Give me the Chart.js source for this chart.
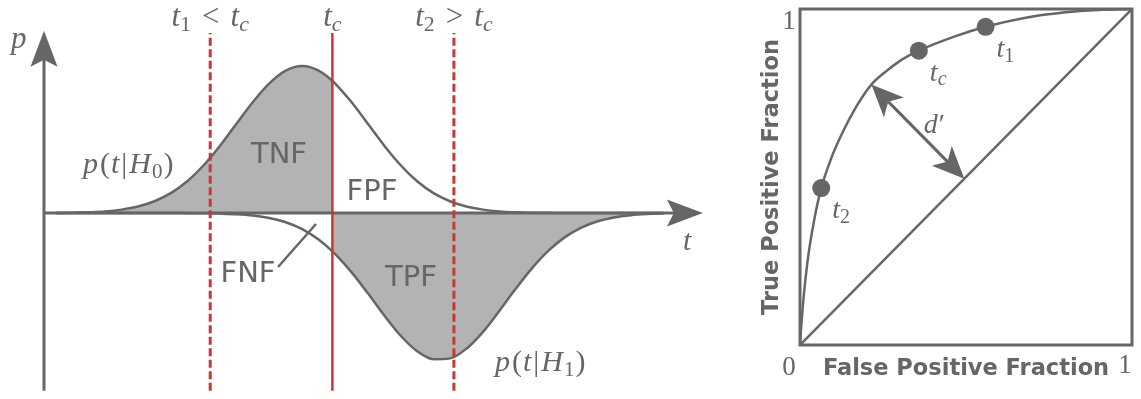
<!DOCTYPE html>
<html>
<head>
<meta charset="utf-8">
<script src="https://cdn.jsdelivr.net/npm/chart.js@4.4.1/dist/chart.umd.min.js"></script>
<style>
  html, body { margin:0; padding:0; background:#fff; width:1141px; height:399px; overflow:hidden; }
  canvas { position:absolute; top:0; }
  #dist { left:0; }
  #roc  { left:750px; }
</style>
</head>
<body>
<canvas id="dist" width="740" height="399"></canvas>
<canvas id="roc" width="391" height="399"></canvas>
<script>
// ------------------------------------------------------------
// decision variable t (sigma units), class densities scaled to peak 1
// ------------------------------------------------------------
const tVals = [-3.75,-3.5,-3.25,-3,-2.75,-2.5,-2.25,-2,-1.75,-1.5,-1.25,-1,-0.75,-0.5,-0.25,0,0.25,0.46,
               0.5,0.75,1,1.25,1.5,1.75,2,2.25,2.5,2.75,3,3.25,3.5,3.75,4,4.25,4.5,4.75,5,5.25,5.5];
const pH0 = [0,0.001,0.005,0.011,0.023,0.044,0.080,0.135,0.216,0.325,0.458,0.607,0.755,0.882,0.969,1,0.969,0.900,
             0.882,0.755,0.607,0.458,0.325,0.216,0.135,0.080,0.044,0.023,0.011,0.005,0.002,0.001,0,0,0,0,0,0,0];
// H1 density is drawn mirrored below the t axis
const pH1 = [0,0,0,0,0,0,0,0,-0.001,-0.002,-0.004,-0.008,-0.017,-0.034,-0.063,-0.110,-0.181,-0.261,
             -0.278,-0.402,-0.546,-0.697,-0.835,-0.940,-0.995,-0.989,-0.923,-0.810,-0.667,-0.516,-0.375,-0.256,
             -0.164,-0.099,-0.056,-0.030,-0.015,-0.007,-0.003];
const thrT1 = -1.40, thrTc = 0.46, thrT2 = 2.31;
const markSpan = [-1.21, 1.224];     // vertical extent of the threshold lines
const tAxis = [-3.93, 6.10];         // t axis: origin, arrow tip
const pAxis = [-1.21, 1.24];         // p axis: bottom, arrow tip

// ------------------------------------------------------------
// ROC curve
// ------------------------------------------------------------
const fpf = [0,0.003,0.008,0.015,0.027,0.044,0.064,0.093,0.127,0.170,0.215,0.260,0.300,0.358,0.471,0.559,0.668,0.800,0.900,1];
const tpf = [0,0.045,0.110,0.183,0.280,0.379,0.467,0.553,0.630,0.710,0.775,0.815,0.845,0.876,0.920,0.947,0.972,0.990,0.997,1];
const opFpf = [0.064, 0.358, 0.559];
const opTpf = [0.467, 0.876, 0.947];
const opNames = ['2', 'c', '1'];     // subscripts of t at each operating point
const dPrimeFrom = [0.215, 0.775], dPrimeTo = [0.495, 0.495];

const GREY = '#666', FILL = '#b3b3b3', RED = '#c83737';
const SERIF = '"Liberation Serif", serif', SANS = '"DejaVu Sans", sans-serif';

Chart.defaults.animation = false;

function pts(xs, ys) { return xs.map((x,i)=>({x, y:ys[i]})); }

// LaTeX-ish label: parts are [text, style, gapAfter]; style i / r / s (subscript) / si (italic subscript)
function mathText(ctx, parts, x, y, size, align) {
  const font = p => ((p[1]==='i'||p[1]==='si') ? 'italic ' : '') + Math.round(p[1][0]==='s' ? size*0.7 : size) + 'px ' + SERIF;
  let w = 0;
  parts.forEach(p => { ctx.font = font(p); w += ctx.measureText(p[0]).width + (p[2]||0); });
  let cx = align==='center' ? x - w/2 : x;
  ctx.textAlign = 'left'; ctx.textBaseline = 'alphabetic'; ctx.fillStyle = GREY;
  parts.forEach(p => {
    ctx.font = font(p);
    ctx.fillText(p[0], cx, p[1][0]==='s' ? y + size*0.17 : y);
    cx += ctx.measureText(p[0]).width + (p[2]||0);
  });
}

// stealth style arrow head, ang = direction it points to
function arrowHead(ctx, x, y, ang, len, half, notch) {
  const c = Math.cos(ang), s = Math.sin(ang);
  const at = (a, b) => [x - a*c - b*s, y - a*s + b*c];
  ctx.beginPath();
  ctx.moveTo(x, y);
  ctx.lineTo(...at(len, half));
  ctx.lineTo(...at(len - notch, 0));
  ctx.lineTo(...at(len, -half));
  ctx.closePath();
  ctx.fill();
}

function sansLabel(ctx, text, x, y, size) {
  ctx.font = size + 'px ' + SANS;
  ctx.fillStyle = GREY; ctx.textAlign = 'center'; ctx.textBaseline = 'alphabetic';
  ctx.fillText(text, x, y);
}

// ------------------------------------------------------------
// left: the two densities with thresholds
// ------------------------------------------------------------
const distDecor = {
  id: 'distDecor',
  afterDatasetsDraw(chart) {
    const {ctx, scales:{x, y}} = chart;
    ctx.save();
    ctx.fillStyle = GREY;
    arrowHead(ctx, x.getPixelForValue(tAxis[0]), y.getPixelForValue(pAxis[1]), -Math.PI/2, 36, 13.5, 7);
    arrowHead(ctx, x.getPixelForValue(tAxis[1]), y.getPixelForValue(0), 0, 36, 13.5, 7);

    // FNF pointer
    ctx.strokeStyle = GREY; ctx.lineWidth = 2.5;
    ctx.beginPath(); ctx.moveTo(278, 267); ctx.lineTo(316, 224); ctx.stroke();

    sansLabel(ctx, 'TNF', 279, 163, 29);
    sansLabel(ctx, 'FPF', 372, 200, 29);
    sansLabel(ctx, 'FNF', 248, 282, 29);
    sansLabel(ctx, 'TPF', 411, 286, 29);

    mathText(ctx, [['t','i'],['1','s',11],['<','r',11],['t','i'],['c','si']], x.getPixelForValue(thrT1), 26, 31, 'center');
    mathText(ctx, [['t','i'],['c','si']], x.getPixelForValue(thrTc), 26, 31, 'center');
    mathText(ctx, [['t','i'],['2','s',11],['>','r',11],['t','i'],['c','si']], x.getPixelForValue(thrT2), 26, 31, 'center');
    mathText(ctx, [['p','i']], 11, 48, 31, 'left');
    mathText(ctx, [['t','i']], 683, 250, 30, 'left');
    mathText(ctx, [['p','i',2],['(','r',1],['t','i',2],['|','r',2],['H','i',1],['0','s',1],[')','r']], 83, 173, 30, 'left');
    mathText(ctx, [['p','i',2],['(','r',1],['t','i',2],['|','r',2],['H','i',1],['1','s',1],[')','r']], 495, 371, 30, 'left');
    ctx.restore();
  }
};

const curve = (data, extra) => Object.assign({ data, borderColor:GREY, borderWidth:2.5, pointRadius:0,
  fill:false, cubicInterpolationMode:'monotone' }, extra);
const vline = (t, dash, width) => ({ data:[{x:t,y:markSpan[0]},{x:t,y:markSpan[1]}], borderColor:RED,
  borderWidth:width, borderDash:dash, pointRadius:0, fill:false, tension:0, order:1 });

const h0 = pts(tVals, pH0), h1 = pts(tVals, pH1);

new Chart(document.getElementById('dist'), {
  type:'line',
  data:{ datasets:[
    // shaded fractions: TNF left of t_c, TPF right of t_c
    curve(h0.filter(p=>p.x<=thrTc), { borderWidth:0, fill:'origin', backgroundColor:FILL, order:10 }),
    curve(h1.filter(p=>p.x>=thrTc), { borderWidth:0, fill:'origin', backgroundColor:FILL, order:10 }),
    // axes
    { data:[{x:tAxis[0],y:0},{x:5.7,y:0}], borderColor:GREY, borderWidth:3, pointRadius:0, tension:0, order:8 },
    { data:[{x:tAxis[0],y:pAxis[0]},{x:tAxis[0],y:1.1}], borderColor:GREY, borderWidth:3, pointRadius:0, tension:0, order:8 },
    curve(h0, { order:5 }),
    curve(h1, { order:5 }),
    vline(thrT1, [8,3.5], 3),
    vline(thrTc, [], 2.5),
    vline(thrT2, [8,3.5], 3),
  ]},
  options:{
    responsive:false, events:[],
    layout:{ padding:0 },
    plugins:{ legend:{display:false}, tooltip:{enabled:false} },
    scales:{
      x:{ type:'linear', min:-4.6, max:6.665, display:false },
      y:{ type:'linear', min:-1.2653, max:1.449, display:false },
    },
  },
  plugins:[distDecor],
});

// ------------------------------------------------------------
// right: ROC
// ------------------------------------------------------------
const rocDecor = {
  id: 'rocDecor',
  afterDatasetsDraw(chart) {
    const {ctx, chartArea:ca, scales:{x, y}} = chart;
    ctx.save();
    ctx.strokeStyle = GREY; ctx.fillStyle = GREY; ctx.lineWidth = 3;
    ctx.strokeRect(x.getPixelForValue(0), y.getPixelForValue(1), x.getPixelForValue(1)-x.getPixelForValue(0), y.getPixelForValue(0)-y.getPixelForValue(1));

    // d' double arrow, perpendicular to the chance line
    const ax = x.getPixelForValue(dPrimeFrom[0]), ay = y.getPixelForValue(dPrimeFrom[1]);
    const bx = x.getPixelForValue(dPrimeTo[0]),   by = y.getPixelForValue(dPrimeTo[1]);
    const ang = Math.atan2(by-ay, bx-ax);
    const cut = 24;
    ctx.lineWidth = 3;
    ctx.beginPath();
    ctx.moveTo(ax + cut*Math.cos(ang), ay + cut*Math.sin(ang));
    ctx.lineTo(bx - cut*Math.cos(ang), by - cut*Math.sin(ang));
    ctx.stroke();
    arrowHead(ctx, ax, ay, ang + Math.PI, 32, 14, 8);
    arrowHead(ctx, bx, by, ang, 32, 14, 8);
    mathText(ctx, [['d','i',1],['\u2032','r']], (ax+bx)/2 + 6, (ay+by)/2 + 1, 28, 'left');

    opFpf.forEach((f,i) => {
      mathText(ctx, [['t','i'],[opNames[i], opNames[i]==='c' ? 'si' : 's']],
        x.getPixelForValue(f) + 11, y.getPixelForValue(opTpf[i]) + 30, 28, 'left');
    });

    ctx.font = '27px ' + SERIF; ctx.textAlign = 'center'; ctx.textBaseline = 'alphabetic';
    ctx.fillText('0', ca.left - 11, ca.bottom + 30);
    ctx.fillText('1', ca.left - 11, ca.top + 20);
    ctx.fillText('1', ca.right - 7, ca.bottom + 28);

    ctx.font = 'bold 22.5px ' + SANS;
    ctx.fillText('False Positive Fraction', (ca.left+ca.right)/2, ca.bottom + 30);
    ctx.translate(ca.left - 22, (ca.top+ca.bottom)/2);
    ctx.rotate(-Math.PI/2);
    ctx.fillText('True Positive Fraction', 0, 0);
    ctx.restore();
  }
};

new Chart(document.getElementById('roc'), {
  type:'line',
  data:{ datasets:[
    { data:pts(opFpf, opTpf), showLine:false, pointRadius:9, pointBackgroundColor:GREY, pointBorderWidth:0, order:1 },
    { data:pts(fpf, tpf), borderColor:GREY, borderWidth:2.5, pointRadius:0, cubicInterpolationMode:'monotone', order:2 },
    { data:[{x:0,y:0},{x:1,y:1}], borderColor:GREY, borderWidth:2.5, pointRadius:0, tension:0, order:3 },
  ]},
  options:{
    responsive:false, events:[],
    layout:{ padding:{ left:50, top:6, right:1, bottom:54 } },
    plugins:{ legend:{display:false}, tooltip:{enabled:false} },
    scales:{
      x:{ type:'linear', min:0, max:1, display:false },
      y:{ type:'linear', min:0, max:1, display:false },
    },
  },
  plugins:[rocDecor],
});
</script>
</body>
</html>
